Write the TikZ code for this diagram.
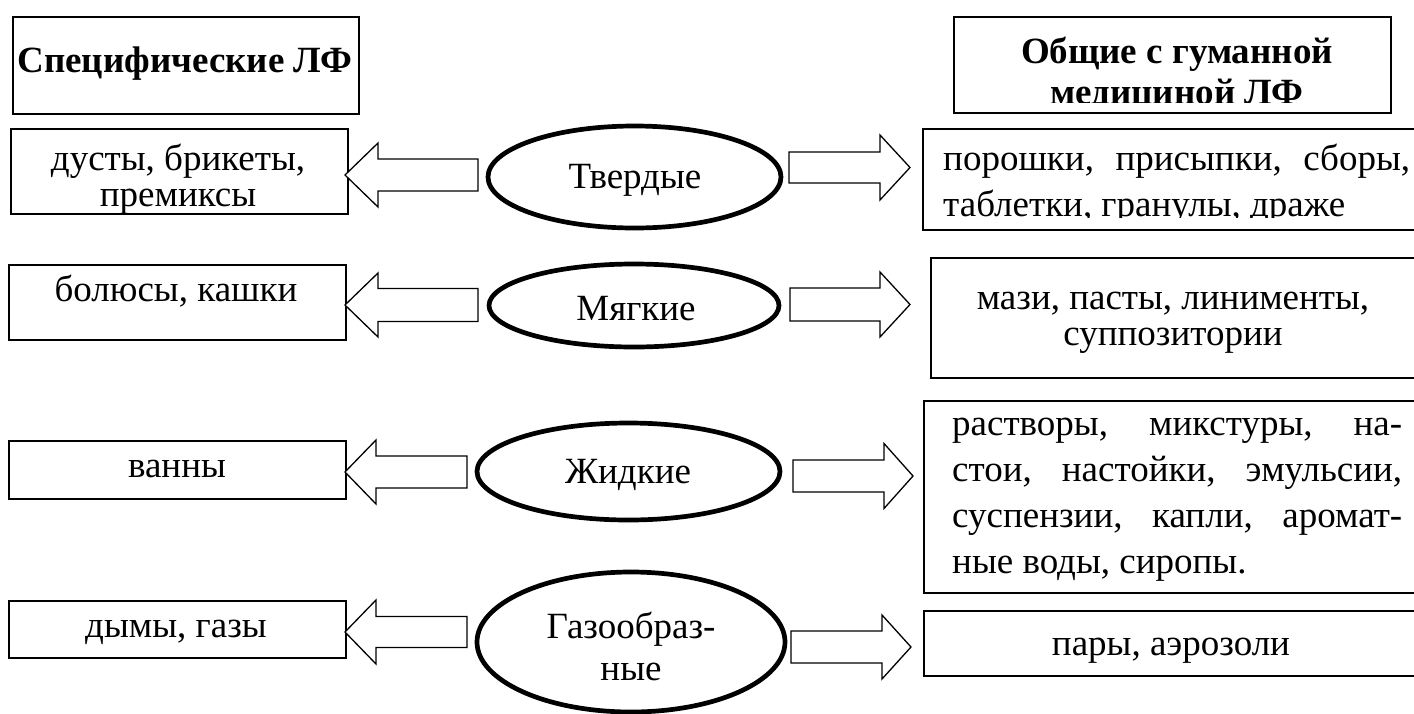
\documentclass[tikz,border=0pt]{standalone}
\usepackage{fontspec}
\setmainfont{Liberation Serif}
\usetikzlibrary{shapes.geometric}
\newcommand{\blockarr}[6]{\draw[arr] (#1,#2) -- (#3,#2-#5) -- (#3,#2-#6) -- (#4,#2-#6) -- (#4,#2+#6) -- (#3,#2+#6) -- (#3,#2+#5) -- cycle;}
\begin{document}
\begin{tikzpicture}[x=1pt,y=-1pt,
  box/.style={draw, line width=1.8pt, inner sep=0pt, anchor=north west},
  oval/.style={draw, ellipse, line width=4.7pt, inner sep=0pt},
  arr/.style={draw, line width=1.3pt, line join=miter, fill=white},
  txt/.style={anchor=base, inner sep=0pt, font=\fontsize{37}{40}\selectfont},
  btxt/.style={anchor=base, inner sep=0pt, font=\fontsize{37}{40}\selectfont\bfseries},
]
\useasboundingbox (0,0) rectangle (1414,713);
\clip (0,0) rectangle (1414,713);
\fill[white] (0,0) rectangle (1414,713);

% header boxes
\node[box, minimum width=346pt, minimum height=97pt] (H1) at (12,16) {};
\node[btxt] (h1t) at (185,72) {Специфические ЛФ};
\node[box, minimum width=437pt, minimum height=96pt] (H2) at (953,16) {};
\begin{scope}
  \clip (940,20) rectangle (1400,102);
  \node[btxt] (h2t) at (1177,63) {\parbox[t]{430pt}{\centering\fontsize{37}{41}\selectfont\bfseries Общие с гуманной\\медициной ЛФ}};
\end{scope}

% left boxes
\node[box, minimum width=337pt, minimum height=85pt] (L1) at (10,128) {};
\node[txt] (l1t) at (178,170) {\parbox[t]{330pt}{\centering\fontsize{37}{36}\selectfont дусты, брикеты,\\премиксы}};
\node[box, minimum width=337pt, minimum height=75pt] (L2) at (8,264) {};
\node[txt] (l2t) at (176,301) {болюсы, кашки};
\node[box, minimum width=337pt, minimum height=58pt] (L3) at (8,440) {};
\node[txt] (l3t) at (177,477) {ванны};
\node[box, minimum width=337pt, minimum height=57pt] (L4) at (8,600) {};
\node[txt] (l4t) at (176,637) {дымы, газы};

% right boxes
\node[box, minimum width=508pt, minimum height=101pt] (R1) at (922,128) {};
\begin{scope}
  \clip (930,135) rectangle (1414,217);
  \node[txt, anchor=base west] (r1t) at (943,170) {\parbox[t]{467pt}{\fontsize{37}{46}\selectfont\makebox[467pt][s]{порошки, присыпки, сборы,}\\таблетки, гранулы, драже}};
\end{scope}
\node[box, minimum width=500pt, minimum height=120pt] (R2) at (930,257) {};
\node[txt] (r2t) at (1173,309) {\parbox[t]{470pt}{\centering\fontsize{37}{36}\selectfont мази, пасты, линименты,\\суппозитории}};
\node[box, minimum width=507pt, minimum height=192pt] (R3) at (923,400) {};
\node[txt, anchor=base west] (r3t) at (952,435) {\parbox[t]{450pt}{\fontsize{37}{46}\selectfont
  \makebox[450pt][s]{растворы, микстуры, на-}\\
  \makebox[450pt][s]{стои, настойки, эмульсии,}\\
  \makebox[450pt][s]{суспензии, капли, аромат-}\\
  ные воды, сиропы.}};
\node[box, minimum width=507pt, minimum height=65pt] (R4) at (923,610) {};
\node[txt] (r4t) at (1171,655) {пары, аэрозоли};

% ellipses
\node[oval, minimum width=293pt, minimum height=102pt] (E1) at (634.5,177) {};
\node[txt] (e1t) at (635,188) {Твердые};
\node[oval, minimum width=290pt, minimum height=83pt] (E2) at (634,305.5) {};
\node[txt] (e2t) at (636,320) {Мягкие};
\node[oval, minimum width=303pt, minimum height=97pt] (E3) at (628.5,471.5) {};
\node[txt] (e3t) at (628,483) {Жидкие};
\node[oval, minimum width=308pt, minimum height=140pt] (E4) at (631,642) {};
\node[txt] (e4t) at (631,638) {\parbox[t]{250pt}{\centering\fontsize{37}{42}\selectfont Газообраз-\\ные}};

% block arrows: tip x, y, head base x, tail x, head half, shaft half
\blockarr{345}{175}{378}{478}{32}{16}
\blockarr{345}{305}{378}{478}{32}{16.5}
\blockarr{345}{472}{376}{467}{32}{16}
\blockarr{345}{632}{376}{467}{32}{15.5}
\blockarr{910}{167.5}{880}{789}{32.5}{15.5}
\blockarr{910}{304.5}{880}{790}{32.5}{16.5}
\blockarr{913}{476}{884}{793}{32.5}{16}
\blockarr{911}{647}{882}{791}{32}{16}
\end{tikzpicture}
\end{document}
